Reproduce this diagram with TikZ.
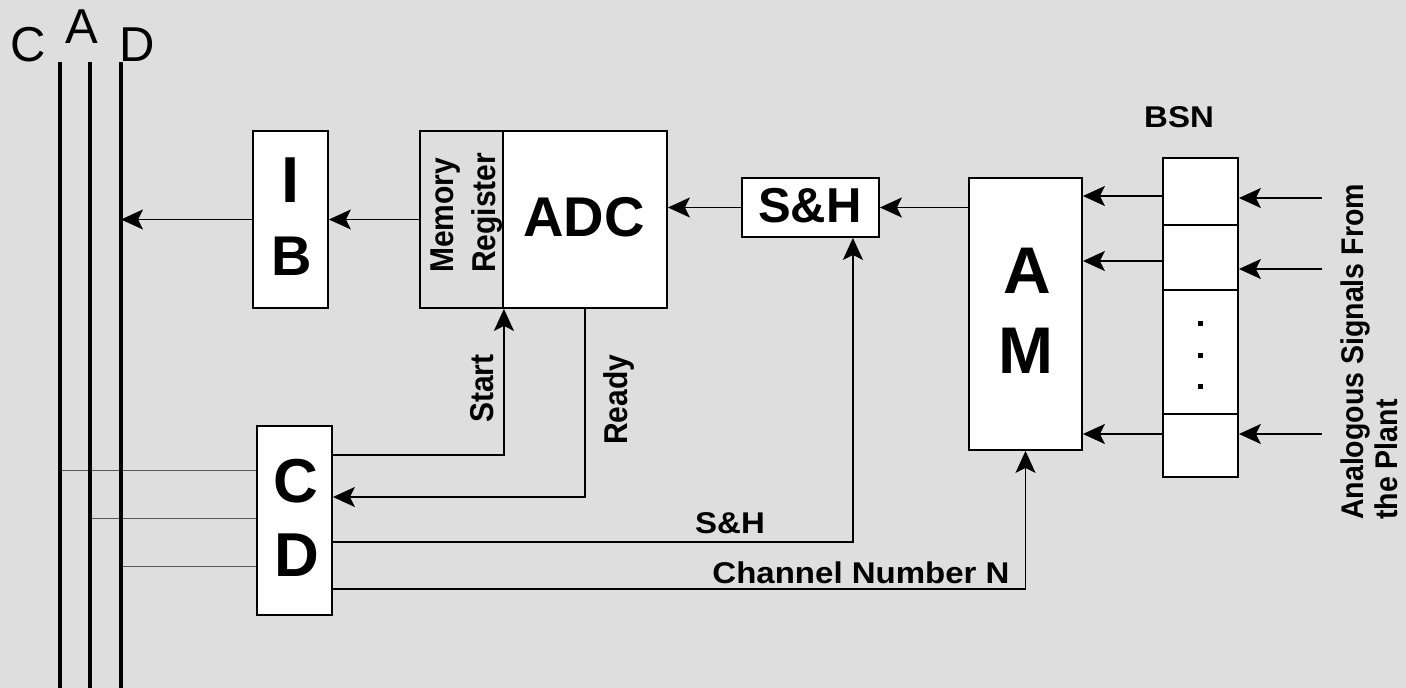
\documentclass[tikz,border=0pt]{standalone}
\usepackage{fontspec}
\setmainfont{Liberation Sans}
\usetikzlibrary{arrows.meta}
\definecolor{bg}{RGB}{222,222,222}
\newcommand{\myfs}[1]{\fontsize{#1}{#1}\selectfont}
\begin{document}
\begin{tikzpicture}[x=1pt,y=-1pt,
  box/.style={draw, line width=1.8pt, fill=white, inner sep=0pt, anchor=center},
  arr/.style={line width=1.8pt, -{Stealth[length=22pt,width=20pt,inset=5pt]}},
  bus/.style={line width=4pt},
  tap/.style={line width=1pt, draw=black!65},
  lbl/.style={font=\myfs{30}\bfseries, inner sep=0pt, xscale=1.1},
  big/.style={font=\myfs{#1}\bfseries, inner sep=0pt, anchor=base},
  buslbl/.style={font=\myfs{49}, inner sep=0pt, anchor=base},
  dotn/.style={fill=black, rectangle, minimum size=5pt, inner sep=0pt}]
\fill[bg] (0,0) rectangle (1406,688);
\useasboundingbox (0,0) rectangle (1406,688);

% bus coordinates
\coordinate (cT) at (60,62);  \coordinate (cB) at (60,688);
\coordinate (aT) at (90,62);  \coordinate (aB) at (90,688);
\coordinate (dT) at (121,62); \coordinate (dB) at (121,688);

% boxes
\node[box, minimum width=75pt, minimum height=177pt] (ib) at (290.5,219.5) {};
\node[box, fill=bg, minimum width=83pt, minimum height=177pt] (mem) at (461.5,219.5) {};
\node[box, minimum width=164pt, minimum height=177pt] (adc) at (585,219.5) {};
\node[box, minimum width=137pt, minimum height=59pt] (sh) at (810.5,207.5) {};
\node[box, minimum width=113pt, minimum height=272pt] (am) at (1025.5,314) {};
\node[box, minimum width=75pt, minimum height=67pt] (c1) at (1200.5,191.5) {};
\node[box, minimum width=75pt, minimum height=65pt] (c2) at (1200.5,257.5) {};
\node[box, minimum width=75pt, minimum height=124pt] (c3) at (1200.5,352) {};
\node[box, minimum width=75pt, minimum height=63pt] (c4) at (1200.5,445.5) {};
\node[box, minimum width=75pt, minimum height=189pt] (cd) at (294.5,520.5) {};

% dots
\node[dotn] (p1) at (1200,323) {};
\node[dotn] (p2) at (1200,355) {};
\node[dotn] (p3) at (1200,386) {};

% big texts
\node[big=65] (tI) at (291,202) {I};
\node[big=56] (tB) at (292,275) {B};
\node[big=56] (tADC) at (584,236) {ADC};
\node[big=49] (tSH) at (810,222) {S\&H};
\node[big=66] (tA) at (1027,293) {A};
\node[big=66] (tM) at (1026,373) {M};
\node[big=62] (tC) at (296,502) {C};
\node[big=62] (tD) at (297,576) {D};

% bus labels
\node[buslbl] (lC) at (28,61) {C};
\node[buslbl] (lA) at (82,43) {A};
\node[buslbl] (lD) at (137,61) {D};

% labels
\node[lbl, rotate=90, anchor=base west] (tMem) at (453,273) {Memory};
\node[lbl, rotate=90, anchor=base west] (tReg) at (495,273) {Register};
\node[lbl, rotate=90, anchor=base west] (tStart) at (493,423) {Start};
\node[lbl, rotate=90, anchor=base west] (tReady) at (627,445) {Ready};
\node[lbl, font=\myfs{28.5}\bfseries, rotate=90, anchor=base west] (tAn1) at (1363,520) {Analogous Signals From};
\node[lbl, font=\myfs{28.5}\bfseries, rotate=90, anchor=base west] (tAn2) at (1397,520) {the Plant};
\node[lbl, anchor=base] (tBSN) at (1179,127) {BSN};
\node[lbl, anchor=base] (tSHl) at (730,533) {S\&H};
\node[lbl, anchor=base] (tCh) at (861,583) {Channel Number N};

% taps from bus to CD
\draw[tap] (cT |- 0,470) -- (cd.west |- 0,470);
\draw[tap] (aT |- 0,518) -- (cd.west |- 0,518);
\draw[tap] (dT |- 0,566) -- (cd.west |- 0,566);

% buses
\draw[bus] (cT) -- (cB);
\draw[bus] (aT) -- (aB);
\draw[bus] (dT) -- (dB);

% connectors
\draw[arr] (ib.west) -- (ib.west -| dT);
\draw[arr] (mem.west) -- (ib.east);
\draw[arr] (sh.west) -- (sh.west -| adc.east);
\draw[arr] (am.west |- sh.east) -- (sh.east);
\draw[arr] (c1.west |- 0,196) -- (am.east |- 0,196);
\draw[arr] (c2.west |- 0,261) -- (am.east |- 0,261);
\draw[arr] (c4.west |- 0,434) -- (am.east |- 0,434);
\coordinate (s1) at (1322,198);
\coordinate (s2) at (1322,269);
\coordinate (s3) at (1322,434);
\draw[arr] (s1) -- (s1 -| c1.east);
\draw[arr] (s2) -- (s2 -| c2.east);
\draw[arr] (s3) -- (s3 -| c4.east);

\draw[arr] (cd.east |- 0,455) -| (mem.south east);
\draw[arr] (adc.south) |- (cd.east |- 0,497);
\draw[arr] (cd.east |- 0,542) -| ([xshift=-27pt]sh.south east);
\draw[arr] (cd.east |- 0,589) -| (am.south);
\end{tikzpicture}
\end{document}
